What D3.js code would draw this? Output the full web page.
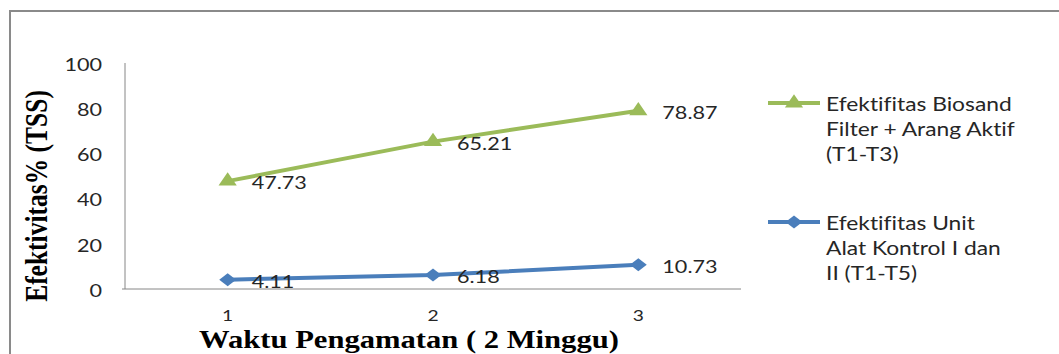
<!DOCTYPE html>
<html>
<head>
<meta charset="utf-8">
<script src="https://cdn.jsdelivr.net/npm/d3@7"></script>
<style>
  html, body { margin: 0; padding: 0; background: #fff; }
  svg { display: block; }
  text { font-variant-ligatures: none; font-feature-settings: "liga" 0; }
</style>
</head>
<body>
<svg id="chart" width="1059" height="354"></svg>
<script>
// Observation periods (x axis)
const categories = ["1", "2", "3"];
// Effectiveness of Biosand Filter + activated charcoal (%)
const biosandValues = [47.73, 65.21, 78.87];
// Effectiveness of control units I and II (%)
const kontrolValues = [4.11, 6.18, 10.73];
// Y axis ticks
const yTicks = [0, 20, 40, 60, 80, 100];

const seriesNames = [
  ["Efektifitas Biosand", "Filter + Arang Aktif", "(T1-T3)"],
  ["Efektifitas Unit", "Alat Kontrol I dan", "II (T1-T5)"]
];

const GREEN = "#9BBB59";
const BLUE = "#4A7EBB";
const AXIS = "#868686";
const SX = 1.2; // horizontal text stretch

const svg = d3.select("#chart");

// outer frame (top and left edges)
svg.append("path")
  .attr("d", "M10,1059V11H1059")
  .attr("fill", "none")
  .attr("stroke", "#8a8a8a")
  .attr("stroke-width", 2);

const plot = { left: 125, right: 741, top: 63, bottom: 289 };

const x = d3.scalePoint().domain(categories).range([plot.left, plot.right]).padding(0.5);
const y = d3.scaleLinear().domain([0, 100]).range([plot.bottom, plot.top]);

// helper: place stretched text
function stretched(sel, tx, ty, extra) {
  return sel.attr("transform", `translate(${tx},${ty}) scale(${SX},1)` + (extra || ""));
}

// Y axis
const yAxis = svg.append("g")
  .attr("transform", `translate(${plot.left},0)`)
  .call(d3.axisLeft(y).tickValues(yTicks).tickSize(0).tickPadding(0).tickFormat(d3.format("d")));
yAxis.select(".domain").attr("stroke", AXIS).attr("d", `M-3,${plot.bottom}H0V${plot.top}`);
yAxis.selectAll(".tick text")
  .attr("x", null).attr("dy", null)
  .attr("dominant-baseline", "central")
  .attr("text-anchor", "end")
  .attr("fill", "#262626")
  .style("font-family", "Lato, sans-serif")
  .style("font-size", "18px")
  .attr("transform", `translate(-23,0) scale(${SX},1)`);

// X axis line
svg.append("g")
  .attr("transform", `translate(0,${plot.bottom})`)
  .call(d3.axisBottom(x).tickSize(0).tickFormat(""))
  .call(g => g.select(".domain").attr("stroke", AXIS).attr("d", `M${plot.left},0H${plot.right}`));

// X tick labels
svg.append("g").selectAll("text")
  .data(categories)
  .join("text")
  .attr("text-anchor", "middle")
  .attr("fill", "#262626")
  .style("font-family", "Lato, sans-serif")
  .style("font-size", "16px")
  .text(d => d)
  .each(function(d) { stretched(d3.select(this), x(d), 321); });

// Axis titles
stretched(svg.append("text"), 47, 196, " rotate(-90)")
  .attr("text-anchor", "middle")
  .style("font-family", "'Liberation Serif', 'Times New Roman', serif")
  .style("font-weight", "bold")
  .style("font-size", "25.5px")
  .attr("fill", "#000")
  .text("Efektivitas% (TSS)");

stretched(svg.append("text"), 409, 348)
  .attr("text-anchor", "middle")
  .style("font-family", "'Liberation Serif', 'Times New Roman', serif")
  .style("font-weight", "bold")
  .style("font-size", "25.5px")
  .attr("fill", "#000")
  .text("Waktu Pengamatan ( 2 Minggu)");

const series = [
  { values: biosandValues, color: GREEN, shape: "triangle" },
  { values: kontrolValues, color: BLUE, shape: "diamond" }
];

const line = d3.line().x((d, i) => x(categories[i])).y(d => y(d));

function marker(g, shape, color, cx, cy) {
  if (shape === "triangle") {
    g.append("path")
      .attr("d", d3.symbol(d3.symbolTriangle, 100)())
      .attr("transform", `translate(${cx},${cy}) scale(${SX},1)`)
      .attr("fill", color);
  } else {
    g.append("path")
      .attr("d", d3.symbol(d3.symbolSquare, 84)())
      .attr("transform", `translate(${cx},${cy}) scale(1.3,1) rotate(45)`)
      .attr("fill", color);
  }
}

series.forEach(s => {
  const g = svg.append("g");
  g.append("path")
    .datum(s.values)
    .attr("d", line)
    .attr("fill", "none")
    .attr("stroke", s.color)
    .attr("stroke-width", 4)
    .attr("stroke-linejoin", "round");
  s.values.forEach((v, i) => marker(g, s.shape, s.color, x(categories[i]), y(v)));
  s.values.forEach((v, i) => {
    stretched(g.append("text"), x(categories[i]) + 24, y(v) + 1)
      .attr("dominant-baseline", "central")
      .attr("fill", "#262626")
      .style("font-family", "Lato, sans-serif")
      .style("font-size", "18px")
      .text(d3.format(".2f")(v));
  });
});

// Legend
const legendRows = [103, 222];
series.forEach((s, k) => {
  const g = svg.append("g");
  const ly = legendRows[k];
  g.append("line")
    .attr("x1", 768).attr("x2", 820)
    .attr("y1", ly).attr("y2", ly)
    .attr("stroke", s.color).attr("stroke-width", 4);
  marker(g, s.shape, s.color, 794, ly);
  seriesNames[k].forEach((t, j) => {
    stretched(g.append("text"), 826, ly + j * 25)
      .attr("dominant-baseline", "central")
      .attr("fill", "#262626")
      .style("font-family", "Lato, sans-serif")
      .style("font-size", "19px")
      .text(t);
  });
});
</script>
</body>
</html>
